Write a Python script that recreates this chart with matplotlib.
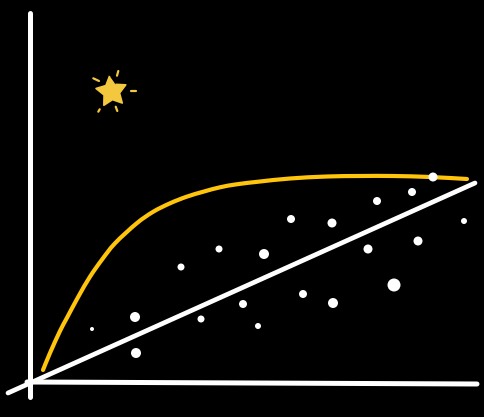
import numpy as np
import matplotlib
matplotlib.use("Agg")
import matplotlib.pyplot as plt
from matplotlib.path import Path
from matplotlib.patches import PathPatch

# dot positions and sizes (pixel-ish units, origin at the axes corner, y up)
dot_x = [151, 189, 234, 261, 302, 347, 382, 403, 434, 388, 338, 364, 273, 303, 213, 171, 228, 105, 62, 106]
dot_y = [116, 134, 129, 164, 160, 182, 191, 206, 162, 142, 134, 98, 89, 80, 79, 64, 57, 66, 54, 30]
dot_d = [7, 7, 10, 8, 9, 8, 8, 9, 6, 9, 9, 13, 8, 10, 8, 7, 6, 10, 4, 10]

# saturating yellow curve
curve_x = [13, 20, 30, 36.7, 48.3, 60, 71.7, 85, 106.7, 123.3, 140, 156.7, 173.3, 190,
           206.7, 228.3, 260, 297, 330, 363, 400, 437]
curve_y = [13, 30, 52, 64.7, 86.3, 106.3, 123, 139.7, 159.7, 171.3, 179.7, 186.3, 191.3, 195.7,
           198.7, 201.3, 204.5, 206.5, 207, 207, 206, 204]

# straight trend line
trend_x = [-22, 445]
trend_y = [-10, 200]

# hand-drawn axes
yaxis_x = [0, 0]
yaxis_y = [-14, 370]
xaxis_x = [-3, 447]
xaxis_y = [1, -1]

# star and its sparkles
star_xy = (81, 292)
sparkles = [((63.3, 304.7), (69, 302)),
            ((88.3, 312), (87, 307.3)),
            ((101, 292), (105.7, 292)),
            ((69.7, 273.7), (68.3, 271.3)),
            ((85.7, 276.3), (87.3, 272))]

YELLOW = "#FFC40C"
STAR = "#F3C83E"


def smooth_path(xs, ys):
    """Catmull-Rom through the points, drawn as cubic bezier segments"""
    p = np.column_stack([xs, ys]).astype(float)
    ext = np.vstack([p[0], p, p[-1]])
    verts = [p[0]]
    codes = [Path.MOVETO]
    for i in range(1, len(ext) - 2):
        c1 = ext[i] + (ext[i + 1] - ext[i - 1]) / 6
        c2 = ext[i + 1] - (ext[i + 2] - ext[i]) / 6
        verts += [c1, c2, ext[i + 1]]
        codes += [Path.CURVE4] * 3
    return Path(verts, codes)


fig = plt.figure(figsize=(4.84, 4.17), dpi=100, facecolor="black")
ax = fig.add_axes([0, 0, 1, 1])
ax.set_facecolor("black")
ax.set_xlim(-30, 454)
ax.set_ylim(-34, 383)
ax.axis("off")

ax.plot(yaxis_x, yaxis_y, color="white", lw=3.6, solid_capstyle="round")
ax.plot(xaxis_x, xaxis_y, color="white", lw=3.6, solid_capstyle="round")
ax.plot(trend_x, trend_y, color="white", lw=3.4, solid_capstyle="round", zorder=3)
ax.add_patch(PathPatch(smooth_path(curve_x, curve_y), fill=False, edgecolor=YELLOW,
                       lw=3.0, capstyle="round", joinstyle="round", zorder=4))

sizes = [(d * 0.72) ** 2 for d in dot_d]
ax.scatter(dot_x, dot_y, s=sizes, color="white", linewidths=0, zorder=5)

# fat five-point star marker, tilted a little
ang = np.deg2rad(90 + 7 + np.arange(10) * 36)
rad = np.where(np.arange(10) % 2 == 0, 1.0, 0.52)
verts = np.column_stack([rad * np.cos(ang), rad * np.sin(ang)])
ax.plot([star_xy[0]], [star_xy[1]], marker=verts, ms=22.5, color=STAR,
        mec=STAR, mew=1.2, ls="none", zorder=6)
for (x0, y0), (x1, y1) in sparkles:
    ax.plot([x0, x1], [y0, y1], color=STAR, lw=1.6, solid_capstyle="round")

fig.savefig("out.png", dpi=100, facecolor="black")
